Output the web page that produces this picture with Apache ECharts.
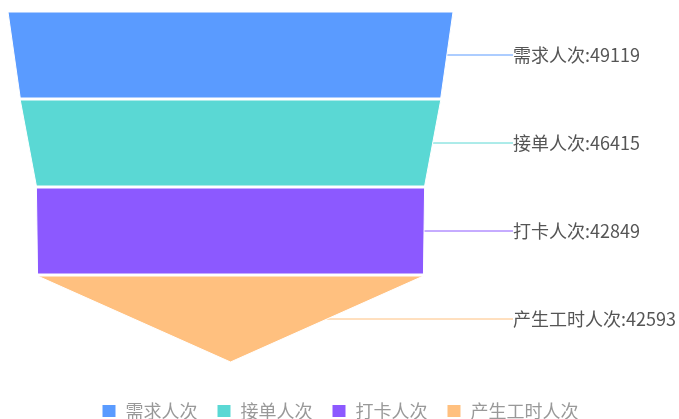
<!DOCTYPE html>
<html>
<head>
<meta charset="utf-8">
<script src="https://cdn.jsdelivr.net/npm/echarts@6/dist/echarts.min.js"></script>
<style>
  html, body { margin: 0; padding: 0; background: #fff; }
  #main { width: 679px; height: 419px; }
</style>
</head>
<body>
<div id="main"></div>
<script>
const names = ['需求人次', '接单人次', '打卡人次', '产生工时人次']
const values = [49119, 46415, 42849, 42593]
const colors = ['#5A9BFF', '#5AD8D4', '#8C59FF', '#FFC07F']

let myChart = echarts.init(document.getElementById('main'))
let data = []
names.forEach((n, i) => {
  data.push({ name: n, value: values[i] })
})

myChart.setOption({
  animation: false,
  color: colors,
  textStyle: {
    fontFamily: 'Noto Sans CJK SC'
  },
  legend: {
    bottom: -6,
    left: 'center',
    itemWidth: 15,
    itemHeight: 14,
    itemGap: 18,
    icon: 'rect',
    textStyle: {
      color: '#999',
      fontSize: 18,
      padding: [0, 0, 0, 4]
    },
    data: names
  },
  series: [{
    type: 'funnel',
    left: 8,
    top: 12,
    width: 445,
    height: 350,
    min: 0,
    max: 49119,
    minSize: '0%',
    maxSize: '100%',
    sort: 'none',
    gap: 2,
    itemStyle: {
      borderColor: '#fff',
      borderWidth: 1
    },
    label: {
      show: true,
      position: 'right',
      color: '#555',
      fontSize: 18,
      formatter: '{b}:{c}'
    },
    labelLine: {
      show: true,
      length: 20,
      lineStyle: { width: 1 }
    },
    // 右侧标签统一对齐
    labelLayout: function (params) {
      let p = params.labelLinePoints
      if (!p) return { x: 513 }
      return {
        x: 513,
        labelLinePoints: [p[0], [513, p[0][1]]]
      }
    },
    data: data
  }]
})
</script>
</body>
</html>
